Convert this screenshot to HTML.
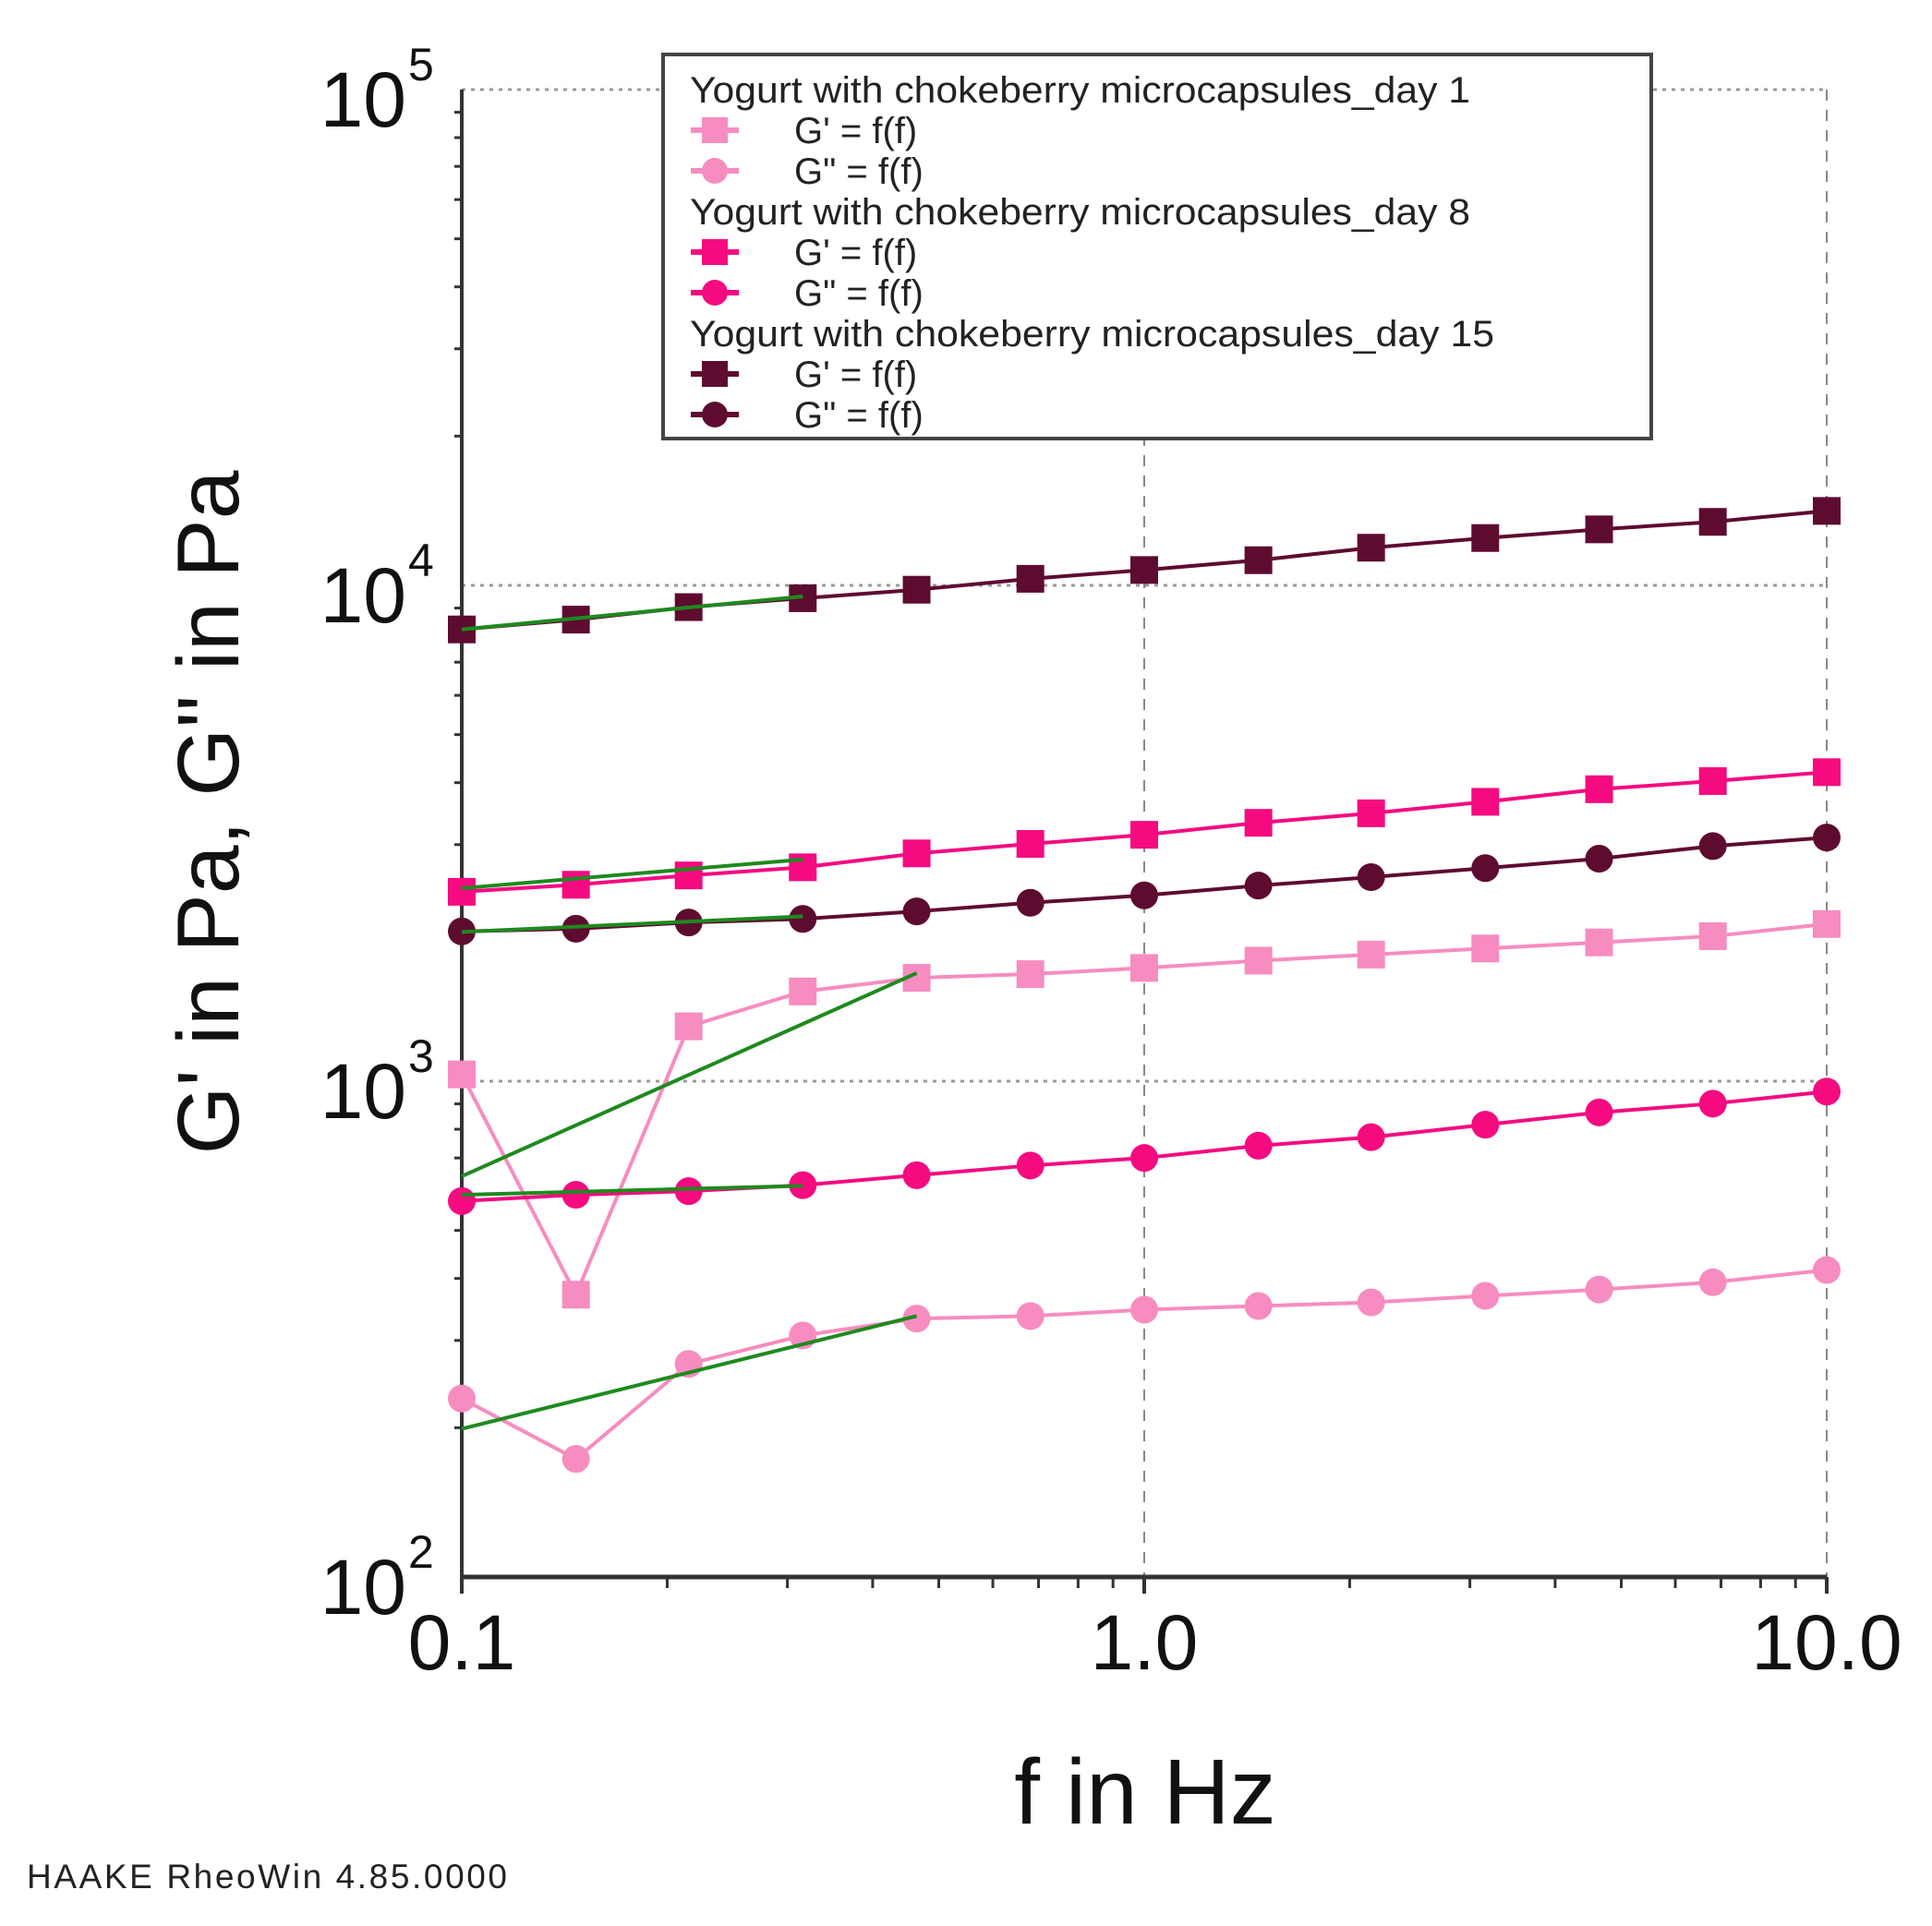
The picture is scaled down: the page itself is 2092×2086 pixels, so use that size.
<!DOCTYPE html>
<html><head><meta charset="utf-8"><style>
html,body{margin:0;padding:0;background:#fff;}
svg{display:block;font-family:"Liberation Sans",sans-serif;}
</style></head><body>
<svg id="chart" width="2092" height="2086" viewBox="0 0 2092 2086" xmlns="http://www.w3.org/2000/svg">
<g id="grid"></g>
<g id="axes"></g>
<g id="series"></g>
<g id="fits"></g>
<g id="legend"></g>
<text x="1240" y="1975" font-size="100" text-anchor="middle" fill="#111">f in Hz</text>
<text x="0" y="0" font-size="95" text-anchor="middle" fill="#111" transform="translate(258,880) rotate(-90)">G' in Pa, G'' in Pa</text>
<text x="29" y="2045" font-size="37" fill="#222" textLength="520">HAAKE RheoWin 4.85.0000</text>
</svg>
<script>
const freqs=[0.1,0.147,0.215,0.316,0.464,0.681,1.0,1.47,2.15,3.16,4.64,6.81,10.0];
const day1Gp=[1032,371,1290,1517,1616,1644,1692,1750,1800,1852,1905,1961,2075];
const day1Gpp=[229,173,269,307,332,336,346,352,358,369,380,393,416];
const day8Gp=[2410,2490,2600,2700,2880,3010,3140,3320,3470,3660,3880,4030,4200];
const day8Gpp=[573,590,600,617,646,676,700,741,771,817,865,901,953];
const day15Gp=[8150,8530,9040,9420,9800,10310,10740,11240,11910,12460,12970,13430,14130];
const day15Gpp=[2005,2030,2090,2125,2200,2290,2370,2480,2580,2690,2810,2980,3100];
const fitF0=[0.1,0.1,0.1,0.1,0.1,0.1];
const fitF1=[0.316,0.316,0.316,0.464,0.316,0.464];
const fitV0=[8150,2450,2000,643,590,199];
const fitV1=[9500,2800,2150,1652,615,336];
const xTicks=[0.1,1.0,10.0];
const xTickLabels=["0.1","1.0","10.0"];
const yExp=[2,3,4,5];

const NS="http://www.w3.org/2000/svg";
const X0=500,X1=1978,Y0=1708,Y1=97;
function xs(f){return X0+(Math.log10(f)+1)/2*(X1-X0);}
function ys(v){return Y0-(Math.log10(v)-2)/3*(Y0-Y1);}
function mk(tag,attrs,parent){const e=document.createElementNS(NS,tag);for(const k in attrs)e.setAttribute(k,attrs[k]);parent.appendChild(e);return e;}
const grid=document.getElementById('grid'),axes=document.getElementById('axes'),ser=document.getElementById('series'),fits=document.getElementById('fits'),leg=document.getElementById('legend');

yExp.slice(1).forEach(e=>{const y=ys(Math.pow(10,e));const l=mk('line',{x1:X0,x2:X1,y1:y,y2:y,stroke:'#999','stroke-width':3,'stroke-dasharray':'4 6'},grid);

});
[1,10].forEach(f=>{const x=xs(f);const l=mk('line',{x1:x,x2:x,y1:Y1,y2:Y0,stroke:'#888','stroke-width':2,'stroke-dasharray':'12 10'},grid);

});

const ya=mk('line',{x1:X0,x2:X0,y1:Y1,y2:Y0,stroke:'#333','stroke-width':4},axes);


const xa=mk('line',{x1:X0,x2:X1,y1:Y0,y2:Y0,stroke:'#333','stroke-width':5},axes);


for(let d=-1;d<1;d++)for(let m=2;m<=9;m++){const x=xs(m*Math.pow(10,d));mk('line',{x1:x,x2:x,y1:Y0,y2:Y0+12,stroke:'#333','stroke-width':3},axes);}
xTicks.forEach(f=>{const x=xs(f);mk('line',{x1:x,x2:x,y1:Y0,y2:Y0+18,stroke:'#333','stroke-width':4},axes);});
for(let d=2;d<5;d++)for(let m=2;m<=9;m++){const y=ys(m*Math.pow(10,d));mk('line',{x1:X0-8,x2:X0,y1:y,y2:y,stroke:'#333','stroke-width':3},axes);}
xTicks.forEach((f,i)=>{const t=mk('text',{x:xs(f),y:1808,'font-size':84,'text-anchor':'middle',fill:'#111'},axes);t.textContent=xTickLabels[i];

});
yExp.forEach(e=>{const y=ys(Math.pow(10,e));const t=mk('text',{x:440,y:y+40,'font-size':84,'text-anchor':'end',fill:'#111'},axes);t.textContent='10';


const s=mk('text',{x:442,y:y-10,'font-size':50,fill:'#111'},axes);s.textContent=String(e);});

const C1='#f78cc0',C8='#f50a80',C15='#5e0b30';
function series(vals,color,shape,name){const g=mk('g',{},ser);


const pts=vals.map((v,i)=>xs(freqs[i])+','+ys(v)).join(' ');
mk('polyline',{points:pts,fill:'none',stroke:color,'stroke-width':4},g);
vals.forEach((v,i)=>{const x=xs(freqs[i]),y=ys(v);let m;
if(shape==='sq')m=mk('rect',{x:x-15,y:y-15,width:30,height:30,fill:color},g);
else m=mk('circle',{cx:x,cy:y,r:15,fill:color},g);

});}
series(day1Gp,C1,'sq','series-day1-gprime');
series(day1Gpp,C1,'ci','series-day1-gdoubleprime');
series(day8Gp,C8,'sq','series-day8-gprime');
series(day8Gpp,C8,'ci','series-day8-gdoubleprime');
series(day15Gpp,C15,'ci','series-day15-gdoubleprime');
series(day15Gp,C15,'sq','series-day15-gprime');

fitF0.forEach((f,i)=>{const l=mk('line',{x1:xs(f),y1:ys(fitV0[i]),x2:xs(fitF1[i]),y2:ys(fitV1[i]),stroke:'#1e8a1e','stroke-width':4},fits);

});

mk('rect',{x:718,y:59,width:1070,height:416,fill:'#fff',stroke:'#444','stroke-width':4},leg);
const rows=[['h','Yogurt with chokeberry microcapsules_day 1',845],['sq',C1,"G' = f(f)"],['ci',C1,'G" = f(f)'],
['h','Yogurt with chokeberry microcapsules_day 8',845],['sq',C8,"G' = f(f)"],['ci',C8,'G" = f(f)'],
['h','Yogurt with chokeberry microcapsules_day 15',871],['sq',C15,"G' = f(f)"],['ci',C15,'G" = f(f)']];
rows.forEach((r,i)=>{const y=97+i*44;
if(r[0]==='h'){const t=mk('text',{x:747,y:y+14,'font-size':40,fill:'#222',textLength:r[2],lengthAdjust:'spacingAndGlyphs'},leg);t.textContent=r[1];

}
else{const g=mk('g',{},leg);


mk('line',{x1:748,x2:800,y1:y,y2:y,stroke:r[1],'stroke-width':6},g);
if(r[0]==='sq')mk('rect',{x:760,y:y-14,width:28,height:28,fill:r[1]},g);else mk('circle',{cx:774,cy:y,r:14,fill:r[1]},g);
const t=mk('text',{x:860,y:y+14,'font-size':40,fill:'#222'},g);t.textContent=r[2];}});
</script>
</body></html>
